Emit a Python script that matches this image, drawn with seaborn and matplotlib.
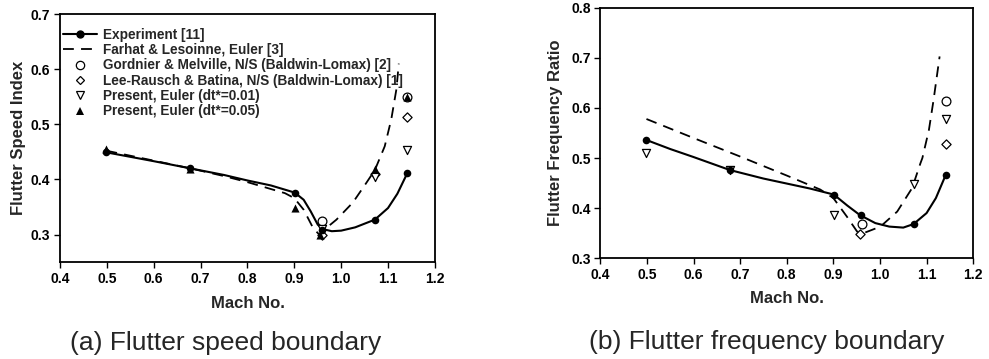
import numpy as np
import pandas as pd
import seaborn as sns
from matplotlib import pyplot as plt
from matplotlib.lines import Line2D

# ---- (a) flutter speed index ----
mach_exp = [0.499, 0.678, 0.901, 0.960, 1.072, 1.141]
fsi_exp = [0.449, 0.420, 0.376, 0.309, 0.327, 0.411]

# experiment fit curve
fsi_fit_m = [0.499, 0.60, 0.678, 0.75, 0.80, 0.85, 0.901, 0.92, 0.935, 0.95, 0.96, 0.98, 1.00, 1.03, 1.072, 1.10, 1.12, 1.141]
fsi_fit_v = [0.449, 0.433, 0.420, 0.408, 0.398, 0.389, 0.376, 0.363, 0.342, 0.318, 0.310, 0.306, 0.307, 0.313, 0.327, 0.348, 0.374, 0.411]

# Farhat & Lesoinne, Euler
fsi_far_m = [0.499, 0.60, 0.678, 0.75, 0.80, 0.88, 0.90, 0.92, 0.94, 0.953, 0.97, 0.99, 1.025, 1.054, 1.072, 1.093, 1.107, 1.118, 1.123]
fsi_far_v = [0.452, 0.434, 0.420, 0.406, 0.395, 0.375, 0.366, 0.345, 0.312, 0.300, 0.313, 0.327, 0.358, 0.394, 0.417, 0.460, 0.509, 0.564, 0.610]

fsi_gord_m = [0.960, 1.141]
fsi_gord_v = [0.324, 0.550]
fsi_lee_m = [0.960, 1.072, 1.141]
fsi_lee_v = [0.299, 0.410, 0.513]
fsi_p01_m = [0.960, 1.072, 1.141]
fsi_p01_v = [0.310, 0.405, 0.453]
fsi_p05_m = [0.499, 0.678, 0.901, 0.955, 1.072, 1.141]
fsi_p05_v = [0.455, 0.418, 0.348, 0.299, 0.418, 0.550]

# ---- (b) flutter frequency ratio ----
ffr_exp = [0.536, 0.476, 0.427, 0.386, 0.368, 0.466]

ffr_fit_m = [0.499, 0.55, 0.60, 0.678, 0.75, 0.80, 0.85, 0.901, 0.93, 0.957, 0.99, 1.02, 1.05, 1.072, 1.10, 1.12, 1.141]
ffr_fit_v = [0.536, 0.518, 0.502, 0.476, 0.459, 0.449, 0.439, 0.427, 0.405, 0.386, 0.370, 0.363, 0.361, 0.368, 0.390, 0.420, 0.466]

ffr_far_m = [0.499, 0.60, 0.70, 0.80, 0.872, 0.90, 0.929, 0.951, 0.965, 1.001, 1.037, 1.069, 1.087, 1.091, 1.105, 1.115, 1.128]
ffr_far_v = [0.578, 0.540, 0.503, 0.465, 0.437, 0.420, 0.383, 0.353, 0.350, 0.363, 0.393, 0.440, 0.490, 0.500, 0.556, 0.616, 0.703]

ffr_gord_m = [0.961, 1.141]
ffr_gord_v = [0.369, 0.614]
ffr_lee_m = [0.958, 1.141]
ffr_lee_v = [0.349, 0.528]
ffr_p01_m = [0.499, 0.678, 0.901, 1.072, 1.141]
ffr_p01_v = [0.511, 0.477, 0.386, 0.449, 0.577]

legend_labels = ["Experiment [11]",
                 "Farhat & Lesoinne, Euler [3]",
                 "Gordnier & Melville, N/S (Baldwin-Lomax) [2]",
                 "Lee-Rausch & Batina, N/S (Baldwin-Lomax) [1]",
                 "Present, Euler (dt*=0.01)",
                 "Present, Euler (dt*=0.05)"]

sns.set_style("ticks")
plt.rcParams['font.family'] = ['Liberation Sans', 'DejaVu Sans']

fig = plt.figure(figsize=(9.89, 3.59), dpi=100)
ax1 = fig.add_axes([0.0607, 0.270, 0.379, 0.691])
ax2 = fig.add_axes([0.607, 0.281, 0.377, 0.697])

dash = (6, 4)

# (a)
sns.lineplot(x=fsi_fit_m, y=fsi_fit_v, ax=ax1, color="k", lw=1.5, sort=False, estimator=None)
sns.lineplot(x=fsi_far_m, y=fsi_far_v, ax=ax1, color="k", lw=1.3, sort=False, estimator=None).lines[-1].set_dashes(dash)
sns.scatterplot(x=fsi_gord_m, y=fsi_gord_v, ax=ax1, marker="o", facecolor="white", edgecolor="k", s=40, linewidth=0.9, zorder=4)
sns.scatterplot(x=fsi_lee_m, y=fsi_lee_v, ax=ax1, marker="D", facecolor="white", edgecolor="k", s=22, linewidth=0.9, zorder=4)
sns.scatterplot(x=fsi_p01_m, y=fsi_p01_v, ax=ax1, marker="v", facecolor="white", edgecolor="k", s=34, linewidth=0.9, zorder=4)
sns.scatterplot(x=fsi_p05_m, y=fsi_p05_v, ax=ax1, marker="^", color="k", s=34, linewidth=0, zorder=5)
sns.scatterplot(x=mach_exp, y=fsi_exp, ax=ax1, marker="o", color="k", s=30, linewidth=0, zorder=6)

ax1.set_xlim(0.4, 1.2)
ax1.set_ylim(0.25, 0.7)
ax1.set_xticks(np.arange(0.4, 1.21, 0.1))
ax1.set_yticks(np.arange(0.3, 0.71, 0.1))
ax1.set_ylabel("Flutter Speed Index")
ax1.yaxis.set_label_coords(-0.09, 0.5)

handles = [
    Line2D([], [], color="k", lw=1.5, marker="o", markersize=5),
    Line2D([], [], color="k", lw=1.3, dashes=dash),
    Line2D([], [], ls="none", marker="o", mfc="white", mec="k", markersize=6, mew=0.9),
    Line2D([], [], ls="none", marker="D", mfc="white", mec="k", markersize=4.5, mew=0.9),
    Line2D([], [], ls="none", marker="v", mfc="white", mec="k", markersize=6, mew=0.9),
    Line2D([], [], ls="none", marker="^", color="k", markersize=6, mew=0),
]
leg = ax1.legend(handles, legend_labels, loc="upper left", bbox_to_anchor=(0.008, 0.945),
                 frameon=False, borderaxespad=0, borderpad=0, handlelength=2.5,
                 handletextpad=0.45, labelspacing=0.1, prop=dict(size=9.8, weight="bold"))

# (b)
sns.lineplot(x=ffr_fit_m, y=ffr_fit_v, ax=ax2, color="k", lw=1.5, sort=False, estimator=None)
sns.lineplot(x=ffr_far_m, y=ffr_far_v, ax=ax2, color="k", lw=1.3, sort=False, estimator=None).lines[-1].set_dashes(dash)
sns.scatterplot(x=ffr_gord_m, y=ffr_gord_v, ax=ax2, marker="o", facecolor="white", edgecolor="k", s=40, linewidth=0.9, zorder=4)
sns.scatterplot(x=ffr_lee_m, y=ffr_lee_v, ax=ax2, marker="D", facecolor="white", edgecolor="k", s=22, linewidth=0.9, zorder=4)
sns.scatterplot(x=ffr_p01_m, y=ffr_p01_v, ax=ax2, marker="v", facecolor="white", edgecolor="k", s=34, linewidth=0.9, zorder=4)
sns.scatterplot(x=mach_exp, y=ffr_exp, ax=ax2, marker="o", color="k", s=30, linewidth=0, zorder=6)

ax2.set_xlim(0.4, 1.2)
ax2.set_ylim(0.3, 0.8)
ax2.set_xticks(np.arange(0.4, 1.21, 0.1))
ax2.set_yticks(np.arange(0.3, 0.81, 0.1))
ax2.set_ylabel("Flutter Frequency Ratio")
ax2.yaxis.set_label_coords(-0.099, 0.5)

ax1.set_xlabel("Mach No.")
ax1.xaxis.set_label_coords(0.501, -0.137)
ax2.set_xlabel("Mach No.")
ax2.xaxis.set_label_coords(0.501, -0.132)

for ax in (ax1, ax2):
    ax.xaxis.label.set_size(12)
    ax.yaxis.label.set_size(12)
    ax.xaxis.label.set_weight("bold")
    ax.yaxis.label.set_weight("bold")
    ax.xaxis.set_major_formatter(plt.FormatStrFormatter("%.1f"))
    ax.yaxis.set_major_formatter(plt.FormatStrFormatter("%.1f"))
    ax.tick_params(direction="out", length=4, width=1, pad=3, labelsize=10, colors="k")
    for lab in ax.get_xticklabels() + ax.get_yticklabels():
        lab.set_fontweight("bold")
    for sp in ax.spines.values():
        sp.set_linewidth(1.3)
        sp.set_color("k")
        sp.set_visible(True)

fig.text(0.2285, 0.045, "(a) Flutter speed boundary", ha="center", va="center", fontsize=19)
fig.text(0.7755, 0.047, "(b) Flutter frequency boundary", ha="center", va="center", fontsize=19)

fig.savefig("out.png", dpi=100)
